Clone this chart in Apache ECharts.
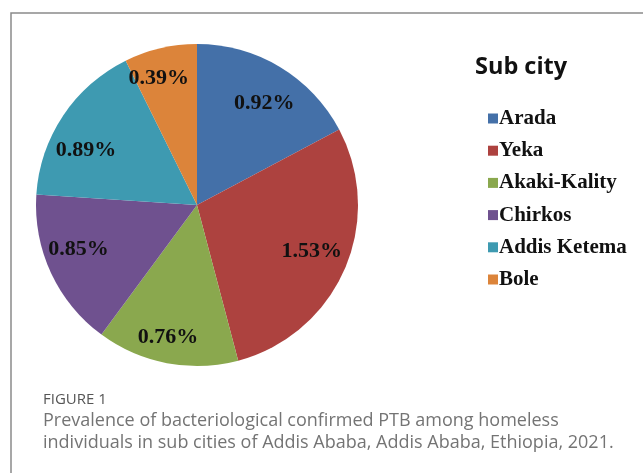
<!DOCTYPE html>
<html><head><meta charset="utf-8">
<script src="https://cdn.jsdelivr.net/npm/echarts@6/dist/echarts.min.js"></script>
<style>html,body{margin:0;padding:0;background:#fff;}#c{width:643px;height:473px;}</style>
</head><body><div id="c"></div>
<script>
const categories = ['Arada', 'Yeka', 'Akaki-Kality', 'Chirkos', 'Addis Ketema', 'Bole'];
const values = [0.92, 1.53, 0.76, 0.85, 0.89, 0.39];
const colors = ['#4470a8', '#ad423f', '#8aa84e', '#6f518f', '#3e9ab1', '#dc843a'];
const labelNudges = [[1, 9], [-3, -5], [-5, 6], [-2, -10], [-4, 17], [-9, -1]];
const legendTitle = 'Sub city';
const captionHead = 'FIGURE 1';
const captionLines = ['Prevalence of bacteriological confirmed PTB among homeless',
  'individuals in sub cities of Addis Ababa, Addis Ababa, Ethiopia, 2021.'];

const data = categories.map((n, i) => ({ name: n, value: values[i], itemStyle: { color: colors[i] } }));
const chart = echarts.init(document.getElementById('c'), null, { renderer: 'canvas' });
const cx = 197, cy = 205, R = 161;
chart.setOption({
  animation: false,
  color: colors,
  legend: {
    orient: 'vertical', left: 483, top: 103, itemWidth: 10, itemHeight: 10, itemGap: 11.2,
    icon: 'rect', data: categories,
    textStyle: { fontFamily: 'Liberation Serif', fontWeight: 'bold', fontSize: 21, color: '#111', padding: [0, 0, 0, -4] }
  },
  graphic: [
    { type: 'rect', shape: { x: 11, y: 13, width: 700, height: 500 }, style: { fill: 'none', stroke: '#8a8a8a', lineWidth: 1.5 }, silent: true },
    { type: 'text', left: 475, top: 55, style: { text: legendTitle, font: 'bold 23.5px "Open Sans"', fill: '#111' } },
    { type: 'text', left: 43, top: 392, style: { text: captionHead, font: '15px "Open Sans"', fill: '#555' } },
    { type: 'text', left: 43, top: 412, style: { text: captionLines[0], font: '18px "Open Sans"', fill: '#747474' } },
    { type: 'text', left: 43, top: 434, style: { text: captionLines[1], font: '18px "Open Sans"', fill: '#747474' } }
  ],
  series: [
    {
      type: 'pie', center: [cx, cy], radius: [0, R], startAngle: 90, clockwise: true,
      data: data, label: { show: false }, labelLine: { show: false },
      itemStyle: { borderWidth: 0 }, silent: true
    },
    {
      type: 'pie', center: [cx, cy], radius: [R * 0.56, R], startAngle: 90, clockwise: true,
      data: categories.map((n, i) => ({ name: n, value: values[i], label: { offset: labelNudges[i] } })),
      itemStyle: { color: 'rgba(0,0,0,0)', borderWidth: 0 },
      label: { show: true, position: 'inside', formatter: p => p.value.toFixed(2) + '%',
        fontFamily: 'Liberation Serif', fontWeight: 'bold', fontSize: 22, color: '#111' },
      labelLine: { show: false }, silent: true, legendHoverLink: false
    }
  ]
});
</script></body></html>
